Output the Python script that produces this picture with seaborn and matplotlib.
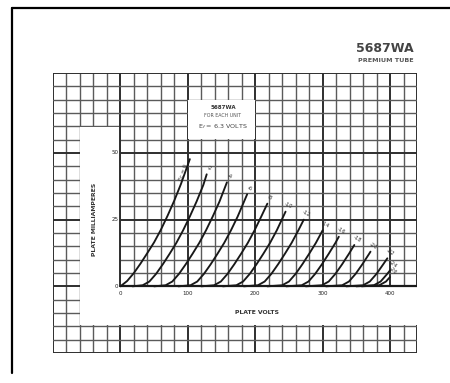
import numpy as np
import pandas as pd
import matplotlib
matplotlib.use("Agg")
import matplotlib.pyplot as plt
import seaborn as sns
from matplotlib.lines import Line2D
from matplotlib.patches import Rectangle

# ---------------- data ----------------
grid_bias = [0, -2, -4, -6, -8, -10, -12, -14, -16, -18, -20, -22, -24, -26]
curve_labels = ["Ec = 0", "-2", "-4", "-6", "-8", "-10", "-12", "-14",
                "-16", "-18", "-20", "-22", "-24", "-26"]
plate_volts = [
    [0, 10, 20, 30, 40, 50, 60, 70, 80, 90, 103],
    [18, 33, 43, 53, 63, 73, 83, 93, 103, 113, 123, 128],
    [50, 67, 77, 87, 97, 107, 117, 127, 137, 147, 158],
    [86, 104, 114, 124, 134, 144, 154, 164, 174, 188],
    [120, 139, 149, 159, 169, 179, 189, 199, 209, 218],
    [152, 172, 182, 192, 202, 212, 222, 232, 245],
    [183, 204, 214, 224, 234, 244, 254, 264, 272],
    [218, 240, 250, 260, 270, 280, 290, 300],
    [246, 269, 279, 289, 299, 309, 319, 324],
    [275, 299, 309, 319, 329, 339, 347],
    [305, 329, 339, 349, 359, 369, 371],
    [335, 360, 370, 380, 390, 396],
    [350, 376, 386, 396, 400],
    [358, 384, 394, 400],
]
plate_ma = [
    [0, 2.0, 5.0, 8.6, 12.5, 16.5, 21.2, 26.5, 32.2, 38.5, 47.7],
    [0, 0.4, 1.8, 4.7, 8.3, 12.2, 16.3, 21.0, 26.2, 31.8, 38.0, 42.0],
    [0, 0.4, 1.8, 4.7, 8.3, 12.2, 16.3, 21.0, 26.2, 31.8, 39.0],
    [0, 0.4, 1.8, 4.7, 8.3, 12.2, 16.3, 21.0, 26.2, 34.5],
    [0, 0.4, 1.8, 4.7, 8.3, 12.2, 16.3, 21.0, 26.2, 31.0],
    [0, 0.4, 1.8, 4.7, 8.3, 12.2, 16.3, 21.0, 28.0],
    [0, 0.4, 1.8, 4.7, 8.3, 12.2, 16.3, 21.0, 25.0],
    [0, 0.4, 1.8, 4.7, 8.3, 12.2, 16.3, 21.0],
    [0, 0.4, 1.8, 4.7, 8.3, 12.2, 16.3, 18.6],
    [0, 0.4, 1.8, 4.7, 8.3, 12.2, 15.5],
    [0, 0.4, 1.8, 4.7, 8.3, 12.2, 13.0],
    [0, 0.4, 1.8, 4.7, 8.3, 10.5],
    [0, 0.4, 1.8, 4.7, 6.0],
    [0, 0.4, 1.8, 3.5],
]
x_ticks = [0, 100, 200, 300, 400]
y_ticks = [0, 25, 50]
title = "5687WA"
subtitle = "PREMIUM TUBE"
note_lines = ["5687WA", "FOR EACH UNIT", "E$_f$ = 6.3 VOLTS"]
x_label = "PLATE VOLTS"
y_label = "PLATE MILLIAMPERES"

rows = []
for b, vs, ms in zip(grid_bias, plate_volts, plate_ma):
    for v, m in zip(vs, ms):
        rows.append({"bias": b, "volts": v, "ma": m})
df = pd.DataFrame(rows)

# ---------------- figure ----------------
sns.set_theme(style="white")
plt.rcParams["font.family"] = ["DejaVu Sans"]

W, H = 450, 383
fig = plt.figure(figsize=(W / 100, H / 100), dpi=100)
fig.patch.set_facecolor("white")
ax = fig.add_axes([53 / W, 1 - 353 / H, 364 / W, 280 / H])
ax.set_xlim(-100, 440)
ax.set_ylim(-25, 80)
ax.axis("off")

# graph-paper grid
minor_c, major_c = "#5a5a5a", "#2e2e2e"
for v in range(-100, 441, 20):
    major = v % 100 == 0 or v == 440
    ax.axvline(v, color=major_c if major else minor_c,
               lw=1.4 if major else 1.0, zorder=1)
for m in range(-25, 81, 5):
    major = m in (-25, 0, 25, 50, 80)
    ax.axhline(m, color=major_c if major else minor_c,
               lw=1.4 if major else 1.0, zorder=1)

# white areas of the sheet (label strips and note box)
ax.add_patch(Rectangle((-59.3, -14.6), 59.0, 74.3, color="white", zorder=2, lw=0))
ax.add_patch(Rectangle((-59.3, -14.6), 498.6, 14.3, color="white", zorder=2, lw=0))
ax.add_patch(Rectangle((100.6, 55.3), 98.8, 14.4, color="white", zorder=2, lw=0))
ax.plot([0, 440], [0, 0], color="#1a1a1a", lw=1.6, zorder=3)
ax.plot([0, 0], [0, 60], color="#2e2e2e", lw=1.4, zorder=3)

# plate characteristic curves
pal = {b: "#181818" for b in grid_bias}
sns.lineplot(data=df, x="volts", y="ma", hue="bias", palette=pal,
             estimator=None, sort=False, legend=False, lw=1.35, ax=ax, zorder=5)
ax.set_xlim(-100, 440)
ax.set_ylim(-25, 80)
ax.axis("off")

# curve labels along the curve ends
for lab, vs, ms in zip(curve_labels, plate_volts, plate_ma):
    p1 = ax.transData.transform((vs[-2], ms[-2]))
    p2 = ax.transData.transform((vs[-1], ms[-1]))
    ang = np.degrees(np.arctan2(p2[1] - p1[1], p2[0] - p1[0]))
    if lab.startswith("Ec"):
        ax.text(vs[-1] - 9, ms[-1] - 5, lab, fontsize=3.8, rotation=ang,
                ha="center", va="center", color="#333", zorder=6)
    else:
        ax.text(vs[-1] + 4, ms[-1] + 2.2, lab, fontsize=3.8, rotation=ang - 90,
                ha="center", va="center", color="#333", zorder=6)

# tick labels
for t in x_ticks:
    ax.text(t, -2.6, str(t), fontsize=4, ha="center", va="center",
            color="#222", zorder=6)
for t in y_ticks:
    ax.text(-3, t, str(t), fontsize=4, ha="right", va="center",
            color="#222", zorder=6)

ax.text(-38, 25, y_label, fontsize=4.4, rotation=90, ha="center",
        va="center", color="#333", fontweight="bold", zorder=6)
ax.text(202, -9.8, x_label, fontsize=4.4, ha="center", va="center",
        color="#333", fontweight="bold", zorder=6)

# note box text
ax.text(152, 67.2, note_lines[0], fontsize=4, ha="center", va="center",
        color="#333", fontweight="bold", zorder=6)
ax.text(152, 64.0, note_lines[1], fontsize=3.4, ha="center", va="center",
        color="#555", zorder=6)
ax.text(152, 60.0, note_lines[2], fontsize=4.6, ha="center", va="center",
        color="#444", zorder=6)

# title block
fig.text(414 / W, 1 - 49 / H, title, fontsize=9, ha="right", va="center",
         color="#444", fontweight="bold")
fig.text(414 / W, 1 - 61 / H, subtitle, fontsize=4.6, ha="right", va="center",
         color="#555", fontweight="bold")

# outer sheet frame
fig.add_artist(Line2D([12 / W, 1.0], [1 - 8 / H, 1 - 8 / H],
                      transform=fig.transFigure, color="black", lw=1.6))
fig.add_artist(Line2D([12 / W, 12 / W], [1 - 8 / H, 1 - 373 / H],
                      transform=fig.transFigure, color="black", lw=1.6))

fig.savefig("out.png", dpi=100, facecolor="white")
